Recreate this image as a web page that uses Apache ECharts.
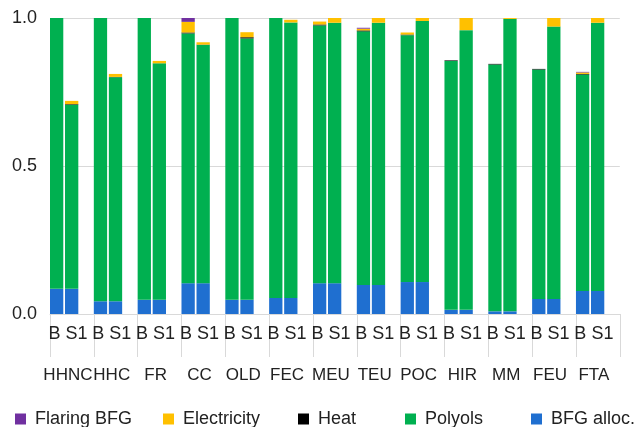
<!DOCTYPE html>
<html>
<head>
<meta charset="utf-8">
<script src="https://cdn.jsdelivr.net/npm/echarts@6/dist/echarts.min.js"></script>
<style>html,body{margin:0;padding:0;background:#fff}#c{width:637px;height:427px}</style>
</head>
<body>
<div id="c"></div>
<script>
var categories = ['HHNC','HHC','FR','CC','OLD','FEC','MEU','TEU','POC','HIR','MM','FEU','FTA'];
var scenarioLabels = ['B','S1'];
var yTicks = [0, 0.5, 1.0];

// Scenario B
var bfgB      = [0.085,0.043,0.048,0.104,0.048,0.054,0.104,0.098,0.108,0.014,0.009,0.051,0.078];
var polyolsB  = [0.915,0.957,0.952,0.844,0.952,0.946,0.871,0.857,0.834,0.841,0.834,0.775,0.731];
var heatB     = [0,0,0,0.003,0,0,0.003,0.003,0.002,0.002,0.002,0.002,0.002];
var elecB     = [0,0,0,0.036,0,0,0.010,0.006,0.007,0,0,0,0.005];
var flaringB  = [0,0,0,0.013,0,0,0,0.003,0,0,0,0,0.002];

// Scenario S1
var bfgS1     = [0.085,0.043,0.048,0.104,0.048,0.054,0.104,0.098,0.108,0.014,0.009,0.051,0.078];
var polyolsS1 = [0.622,0.757,0.799,0.805,0.883,0.931,0.880,0.886,0.882,0.945,0.988,0.920,0.906];
var heatS1    = [0.002,0.001,0,0.001,0.004,0,0,0,0,0,0,0,0];
var elecS1    = [0.011,0.010,0.008,0.008,0.017,0.009,0.016,0.016,0.010,0.041,0.003,0.029,0.016];
var flaringS1 = [0,0,0,0,0,0,0,0,0,0,0,0,0];

var gapValues = [0,0,0,0,0,0,0,0,0,0,0,0,0];

var names = ['Flaring BFG','Electricity','Heat','Polyols','BFG alloc.'];
var colors = {'Flaring BFG':'#7030A0','Electricity':'#FFC000','Heat':'#000000','Polyols':'#00B050','BFG alloc.':'#1F6FD0'};

var font = 'Liberation Sans, Arial, sans-serif';
var barW = 13.3;

function mk(name, stack, data, w) {
  return {
    name: name, type: 'bar', stack: stack, data: data,
    barWidth: w, barGap: '13%',
    itemStyle: {color: colors[name]},
    emphasis: {disabled: true}
  };
}

var series = [
  mk('BFG alloc.','B',bfgB,barW),
  mk('Polyols','B',polyolsB,barW),
  mk('Heat','B',heatB,barW),
  mk('Electricity','B',elecB,barW),
  mk('Flaring BFG','B',flaringB,barW),
  mk('BFG alloc.','S1',bfgS1,barW),
  mk('Polyols','S1',polyolsS1,barW),
  mk('Heat','S1',heatS1,barW),
  mk('Electricity','S1',elecS1,barW),
  mk('Flaring BFG','S1',flaringS1,barW),
  {name:'gap', type:'bar', stack:'gap', data: gapValues, barWidth: 13.8, barGap:'13%', silent:true, itemStyle:{color:'rgba(0,0,0,0)'}}
];

var legendLefts = [10, 158, 293, 400, 526];
var legends = names.map(function(n, i) {
  return {
    data: [n], left: legendLefts[i], top: 408, padding: [2, 5, 0, 5],
    itemWidth: 11, itemHeight: 11, icon: 'rect',
    selectedMode: false,
    textStyle: {fontFamily: font, fontSize: 18, color: '#222', padding: [0,0,0,4]}
  };
});

var chart = echarts.init(document.getElementById('c'), null, {renderer: 'canvas'});
chart.setOption({
  animation: false,
  backgroundColor: '#fff',
  legend: legends,
  grid: {left: 50, right: 17.2, top: 18, bottom: 113, containLabel: false},
  xAxis: {
    type: 'category', data: categories, boundaryGap: true,
    axisLine: {show: true, lineStyle: {color: '#d9d9d9', width: 1}},
    axisTick: {show: true, interval: 0, length: 43, lineStyle: {color: '#d9d9d9'}},
    axisLabel: {
      interval: 0, margin: 0, padding: [0, 8, 0, 0],
      formatter: function(v) { return '{a|' + scenarioLabels.join(' ') + '}\n{b|' + v + '}'; },
      rich: {
        a: {fontFamily: font, fontSize: 18, color: '#222', lineHeight: 40},
        b: {fontFamily: font, fontSize: 17, color: '#222', lineHeight: 43}
      }
    }
  },
  yAxis: {
    type: 'value', min: yTicks[0], max: yTicks[yTicks.length-1], interval: 0.5,
    axisLine: {show: false}, axisTick: {show: false},
    splitLine: {lineStyle: {color: '#d9d9d9', width: 1}},
    axisLabel: {fontFamily: font, fontSize: 18, color: '#222', margin: 13,
      formatter: function(v){ return v.toFixed(1); }}
  },
  series: series
});
</script>
</body>
</html>
